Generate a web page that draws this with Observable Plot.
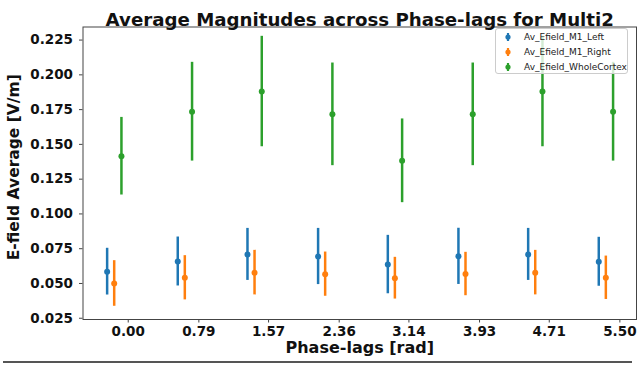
<!DOCTYPE html>
<html>
<head>
<meta charset="utf-8">
<script src="https://cdn.jsdelivr.net/npm/d3@7"></script>
<script src="https://cdn.jsdelivr.net/npm/@observablehq/plot@0.6"></script>
<style>
  html, body { margin: 0; padding: 0; background: white; }
  #wrap { position: relative; width: 637px; height: 367px; overflow: hidden; font-family: "DejaVu Sans", sans-serif; }
  #legend { position: absolute; left: 495px; top: 28px; width: 133px; height: 46px; border: 1px solid #cccccc; border-radius: 3px; background: rgba(255,255,255,0.8); box-sizing: border-box; }
  .row { position: absolute; left: 0; height: 14px; font-size: 9px; color: #222; line-height: 14px; }
  .row svg { position: absolute; left: 7px; top: 0; }
  .row span { position: absolute; left: 28px; white-space: nowrap; }
  #edge { position: absolute; left: 3px; top: 361px; width: 629px; height: 2px; background: #555; }
</style>
</head>
<body>
<div id="wrap"></div>
<script>
const phaseLags = [0.00, 0.79, 1.57, 2.36, 3.14, 3.93, 4.71, 5.50];
const yTicks = [0.025, 0.050, 0.075, 0.100, 0.125, 0.150, 0.175, 0.200, 0.225];

const seriesNames = ["Av_Efield_M1_Left", "Av_Efield_M1_Right", "Av_Efield_WholeCortex"];
const seriesColors = ["#1f77b4", "#ff7f0e", "#2ca02c"];

const leftMean  = [0.0585, 0.0658, 0.0709, 0.0694, 0.0636, 0.0695, 0.0709, 0.0656];
const leftSd    = [0.0168, 0.0176, 0.0187, 0.0202, 0.0210, 0.0202, 0.0187, 0.0176];
const rightMean = [0.0500, 0.0541, 0.0578, 0.0567, 0.0538, 0.0568, 0.0578, 0.0541];
const rightSd   = [0.0164, 0.0159, 0.0160, 0.0159, 0.0150, 0.0156, 0.0160, 0.0156];
const wholeMean = [0.1415, 0.1735, 0.1880, 0.1716, 0.1382, 0.1716, 0.1880, 0.1735];
const wholeSd   = [0.0279, 0.0355, 0.0397, 0.0369, 0.0301, 0.0369, 0.0397, 0.0355];

const means = [leftMean, rightMean, wholeMean];
const sds = [leftSd, rightSd, wholeSd];
// horizontal dodge of each series relative to the tick (in radians)
const dodge = [-0.236, -0.157, -0.076];

const rows = seriesNames.flatMap((s, k) => phaseLags.map((p, i) => ({
  series: s,
  x: p + dodge[k],
  mean: means[k][i],
  low: means[k][i] - sds[k][i],
  high: means[k][i] + sds[k][i]
})));

const chart = Plot.plot({
  width: 637,
  height: 367,
  marginLeft: 82.5,
  marginRight: 1,
  marginTop: 26.5,
  marginBottom: 48,
  style: { fontFamily: "DejaVu Sans", background: "white", color: "#111", fontSize: "13.5px", fontWeight: "bold" },
  x: { domain: [-0.506, 5.686], label: null },
  y: { domain: [0.0241, 0.2344], label: null },
  color: { domain: seriesNames, range: seriesColors },
  marks: [
    Plot.axisX({ ticks: phaseLags, tickFormat: d => d.toFixed(2), tickSize: 3.5, tickPadding: 3, fontSize: 13.5, fontWeight: "bold", label: null, stroke: "#444" }),
    Plot.axisY({ ticks: yTicks, tickFormat: d => d.toFixed(3), tickSize: 3.5, tickPadding: 6.5, fontSize: 13.5, fontWeight: "bold", label: null, stroke: "#444" }),
    Plot.ruleX(rows, { x: "x", y1: "low", y2: "high", stroke: "series", strokeWidth: 2.5 }),
    Plot.dot(rows, { x: "x", y: "mean", fill: "series", r: 3 }),
    Plot.frame({ stroke: "#444", strokeWidth: 1 }),
    Plot.text(["Average Magnitudes across Phase-lags for Multi2"], { frameAnchor: "top", dy: -14, fontSize: 18.2, fontWeight: "bold", fill: "#111" }),
    Plot.text(["Phase-lags [rad]"], { frameAnchor: "bottom", dy: 33.5, fontSize: 16, fontWeight: "bold", fill: "#111" }),
    Plot.text(["E-field Average [V/m]"], { frameAnchor: "left", textAnchor: "middle", rotate: -90, dx: -69.2, dy: -6, fontSize: 15.5, fontWeight: "bold", fill: "#111" })
  ]
});

const wrap = document.getElementById("wrap");
wrap.appendChild(chart);

const legend = document.createElement("div");
legend.id = "legend";
seriesNames.forEach((name, k) => {
  const row = document.createElement("div");
  row.className = "row";
  row.style.top = (1 + k * 15) + "px";
  row.innerHTML = `<svg width="10" height="14"><line x1="5" x2="5" y1="3" y2="11" stroke="${seriesColors[k]}" stroke-width="2.2"/><circle cx="5" cy="7" r="2.6" fill="${seriesColors[k]}"/></svg><span>${name}</span>`;
  legend.appendChild(row);
});
wrap.appendChild(legend);

const edge = document.createElement("div");
edge.id = "edge";
wrap.appendChild(edge);
</script>
</body>
</html>
